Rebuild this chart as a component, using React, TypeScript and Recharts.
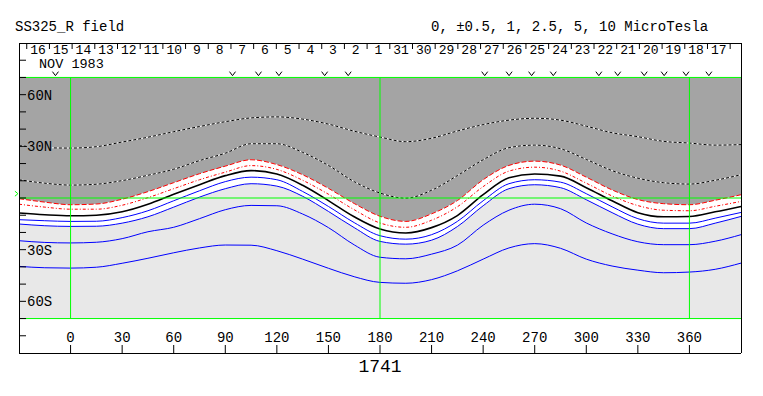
import {
  ComposedChart,
  Area,
  Line,
  XAxis,
  YAxis,
  ReferenceArea,
  ReferenceLine,
  ReferenceDot,
} from 'recharts';

// Carrington longitude samples (deg)
const lon = [-30, -15, 0, 15, 30, 45, 60, 75, 90, 105, 120, 135, 150, 165, 180, 195, 210, 225, 240, 255, 270, 285, 300, 315, 330, 345, 360, 375, 390];

// contour latitudes (deg)
const dotUpper = [30.4, 29.2, 29.0, 29.8, 32.5, 35.3, 38.5, 41.5, 44.3, 46.5, 47.1, 45.8, 42.9, 38.8, 35.4, 32.7, 34.7, 38.9, 42.6, 45.2, 46.3, 45.2, 41.7, 37.9, 35.6, 32.9, 31.9, 30.7, 31.0];
const dotLower = [10.6, 8.6, 7.5, 8.0, 10.1, 13.2, 16.7, 21.7, 26.0, 31.5, 31.5, 26.5, 18.9, 9.5, 2.9, -0.1, 4.5, 13.0, 22.2, 29.2, 30.7, 28.6, 22.4, 15.9, 11.5, 8.9, 8.1, 10.3, 13.5];
const redOuter = [-0.4, -2.4, -3.9, -3.5, -0.7, 3.7, 8.9, 14.1, 18.5, 22.2, 19.4, 13.5, 5.6, -3.2, -10.6, -13.6, -9.2, -1.5, 10.6, 18.9, 21.4, 19.1, 12.1, 4.7, -0.9, -3.3, -3.9, -1.3, 1.9];
const redInner = [-3.6, -5.3, -6.5, -6.5, -4.2, 0.2, 5.4, 10.6, 15.0, 18.8, 16.6, 10.3, 2.2, -6.8, -14.5, -17.0, -12.9, -5.1, 6.6, 15.6, 17.9, 15.6, 8.6, 1.2, -4.4, -7.1, -7.4, -4.8, -2.0];
const neutral = [-8.7, -9.7, -10.3, -10.0, -8.0, -3.6, 2.2, 7.7, 13.0, 15.9, 13.9, 7.4, -1.5, -10.9, -18.0, -20.3, -17.2, -10.2, 1.9, 11.8, 13.9, 12.7, 6.0, -1.6, -8.5, -10.9, -10.7, -8.0, -4.9];
const blue1 = [-12.6, -13.2, -13.6, -13.5, -11.4, -7.4, -1.6, 4.2, 9.5, 12.1, 10.6, 3.8, -4.9, -14.3, -21.9, -23.9, -21.3, -13.6, -1.6, 8.3, 10.6, 9.2, 2.5, -5.1, -12.0, -14.6, -14.6, -11.7, -8.4];
const blue2 = [-15.1, -16.1, -16.5, -16.4, -14.6, -10.9, -5.3, 0.5, 5.4, 8.3, 6.9, 1.0, -7.8, -17.2, -25.2, -26.8, -24.5, -16.6, -4.5, 5.4, 7.7, 6.0, -1.0, -8.5, -15.2, -17.8, -17.8, -14.6, -10.7];
const blue3 = [-24.8, -25.8, -26.1, -25.7, -23.6, -19.6, -17.0, -12.0, -6.8, -4.3, -4.5, -9.3, -17.2, -27.2, -34.4, -35.3, -32.6, -27.4, -15.8, -7.1, -3.6, -6.2, -14.5, -20.8, -25.4, -27.1, -27.1, -25.1, -21.3];
const blue4 = [-39.7, -40.5, -40.7, -40.2, -37.9, -35.0, -31.8, -29.0, -27.3, -27.4, -30.6, -35.5, -40.8, -45.7, -49.0, -49.5, -47.4, -42.3, -35.5, -29.0, -26.5, -29.2, -35.5, -39.5, -41.9, -43.4, -43.0, -41.4, -37.8];

const lonTicks = [0, 30, 60, 90, 120, 150, 180, 210, 240, 270, 300, 330, 360];
const latTicks = [-80, -70, -60, -50, -40, -30, -20, -10, 0, 10, 20, 30, 40, 50, 60, 70, 80];
const latNames: Record<string, string> = { '60': '60N', '30': '30N', '-30': '30S', '-60': '60S' };

// day boundaries along the top strip (longitude) and day numbers
const dayEdges = [-25.5, -12.3, 0.9, 14.1, 27.3, 40.5, 53.7, 66.9, 80.1, 93.3, 106.5, 119.7, 132.9, 146.1, 159.3, 172.5, 185.7, 198.9, 212.1, 225.3, 238.5, 251.7, 264.9, 278.1, 291.3, 304.5, 317.7, 330.9, 344.1, 357.3, 370.5, 383.7];
const dayLabels = ['16', '15', '14', '13', '12', '11', '10', '9', '8', '7', '6', '5', '4', '3', '2', '1', '31', '30', '29', '28', '27', '26', '25', '24', '23', '22', '21', '20', '19', '18', '17'];

// "V" markers under the date strip
const markLons = [-8.8, 94.2, 109.3, 121.2, 147.8, 161.5, 240.9, 255.1, 268.2, 280.8, 307.3, 318.3, 333.7, 345.3, 358.0, 371.3];
const markLat = 72.2;

const rows = lon.map((l, i) => ({
  lon: l,
  dotUpper: dotUpper[i],
  dotLower: dotLower[i],
  redOuter: redOuter[i],
  redInner: redInner[i],
  neutral: neutral[i],
  blue1: blue1[i],
  blue2: blue2[i],
  blue3: blue3[i],
  blue4: blue4[i],
  pos: [redOuter[i], 70],
  band: [blue2[i], redOuter[i]],
}));

const FONT = 'Liberation Mono, DejaVu Sans Mono, monospace';
const GREEN = '#00ff00';
const BLUE = '#0000ff';
const RED = '#ff0000';
const DARK = '#a4a4a4';
const LIGHT = '#e8e8e8';

const DayTick = (props: any) => {
  const { x, y, index } = props;
  const label = dayLabels[index];
  if (!label) return <g />;
  return (
    <text x={x + 11.3} y={y + 3.5} textAnchor="middle" fontFamily={FONT} fontSize={13} fill="#000">
      {label}
    </text>
  );
};

// latitude label with a patch of the map colour behind it
const LatTick = (props: any) => {
  const { x, y, payload, textAnchor } = props;
  const v = payload?.value;
  const name = latNames[String(v)];
  if (!name) return <g />;
  const w = 25;
  const left = textAnchor === 'end' ? x - w : x;
  return (
    <g>
      <rect x={left} y={y - 6} width={w} height={12} fill={v > 0 ? DARK : LIGHT} />
      <text x={x} y={y + 5} textAnchor={textAnchor} fontFamily={FONT} fontSize={14} fill="#000">
        {name}
      </text>
    </g>
  );
};

const VMark = (props: any) => {
  const { cx, cy } = props;
  return <path d={`M${cx - 3},${cy - 2} L${cx},${cy + 2} L${cx + 3},${cy - 2}`} stroke="#000" fill="none" />;
};

const Arrow = (props: any) => {
  const { cx, cy } = props;
  return <path d={`M${cx - 1.5},${cy - 2.5} L${cx + 1.5},${cy} L${cx - 1.5},${cy + 2.5}`} stroke={GREEN} fill="none" />;
};

const tickStyle = { fontFamily: FONT, fontSize: 14, fill: '#000' };
const axisStyle = { stroke: '#000', shapeRendering: 'crispEdges' };

export default function App() {
  const line = (key: string, color: string, width = 1, dash?: string) => (
    <Line
      key={key + color}
      dataKey={key}
      type="monotone"
      stroke={color}
      strokeWidth={width}
      strokeDasharray={dash}
      dot={false}
      activeDot={false}
      isAnimationActive={false}
    />
  );

  return (
    <div style={{ position: 'absolute', left: 0, top: 0, width: 763, height: 396, background: '#fff' }}>
      <ComposedChart width={763} height={396} data={rows} margin={{ top: 43, right: 22, bottom: 43, left: 19 }}>
        <XAxis
          dataKey="lon"
          type="number"
          domain={[-30, 390]}
          ticks={lonTicks}
          mirror
          tickSize={8}
          tickMargin={3}
          tick={tickStyle}
          axisLine={axisStyle}
          tickLine={{ stroke: '#000' }}
        />
        <XAxis
          xAxisId="top"
          orientation="top"
          dataKey="lon"
          type="number"
          domain={[-30, 390]}
          ticks={dayEdges}
          interval={0}
          mirror
          tickSize={6}
          tickMargin={1}
          tick={<DayTick />}
          axisLine={axisStyle}
          tickLine={{ stroke: '#000' }}
        />
        <YAxis
          type="number"
          domain={[-90, 90]}
          ticks={latTicks}
          interval={0}
          mirror
          tickSize={7}
          tickMargin={1}
          tick={<LatTick />}
          axisLine={axisStyle}
          tickLine={{ stroke: '#000' }}
        />
        <YAxis
          yAxisId="right"
          orientation="right"
          type="number"
          domain={[-90, 90]}
          ticks={latTicks}
          interval={0}
          mirror
          tickSize={7}
          tickMargin={1}
          tick={<LatTick />}
          axisLine={axisStyle}
          tickLine={{ stroke: '#000' }}
        />

        <ReferenceArea x1={-30} x2={390} y1={-70} y2={70} fill={LIGHT} fillOpacity={1} stroke="none" />
        <Area dataKey="pos" type="monotone" fill={DARK} fillOpacity={1} stroke="none" isAnimationActive={false} activeDot={false} />
        <Area dataKey="band" type="monotone" fill="#ffffff" fillOpacity={1} stroke="none" isAnimationActive={false} activeDot={false} />

        {line('blue4', BLUE)}
        {line('blue3', BLUE)}
        {line('blue2', BLUE)}
        {line('blue1', BLUE)}
        {line('neutral', '#000', 1.6)}
        {line('redInner', RED, 1, '3 2 1 2')}
        {line('redOuter', RED, 1, '5 2')}
        {line('dotLower', '#fff', 1)}
        {line('dotLower', '#000', 1, '3 2')}
        {line('dotUpper', '#fff', 1)}
        {line('dotUpper', '#000', 1, '3 2')}

        <ReferenceLine y={0} stroke={GREEN} />
        <ReferenceLine y={70} stroke={GREEN} />
        <ReferenceLine y={-70} stroke={GREEN} />
        <ReferenceLine segment={[{ x: 0, y: -70 }, { x: 0, y: 70 }]} stroke={GREEN} />
        <ReferenceLine segment={[{ x: 180, y: -70 }, { x: 180, y: 70 }]} stroke={GREEN} />
        <ReferenceLine segment={[{ x: 360, y: -70 }, { x: 360, y: 70 }]} stroke={GREEN} />

        {markLons.map((m) => (
          <ReferenceDot key={m} x={m} y={markLat} r={3} shape={<VMark />} />
        ))}
        <ReferenceDot x={-31.5} y={2.5} r={2} ifOverflow="visible" shape={<Arrow />} />
      </ComposedChart>

      <svg width={763} height={396} style={{ position: 'absolute', left: 0, top: 0, pointerEvents: 'none' }}>
        <text x={15} y={31} fontFamily={FONT} fontSize={14} fill="#000">SS325_R field</text>
        <text x={431} y={31} fontFamily={FONT} fontSize={14} fill="#000">0, ±0.5, 1, 2.5, 5, 10 MicroTesla</text>
        <text x={39} y={67.5} fontFamily={FONT} fontSize={13.5} fill="#000">NOV 1983</text>
        <text x={380} y={372} textAnchor="middle" fontFamily={FONT} fontSize={18} fill="#000">1741</text>
      </svg>
    </div>
  );
}
